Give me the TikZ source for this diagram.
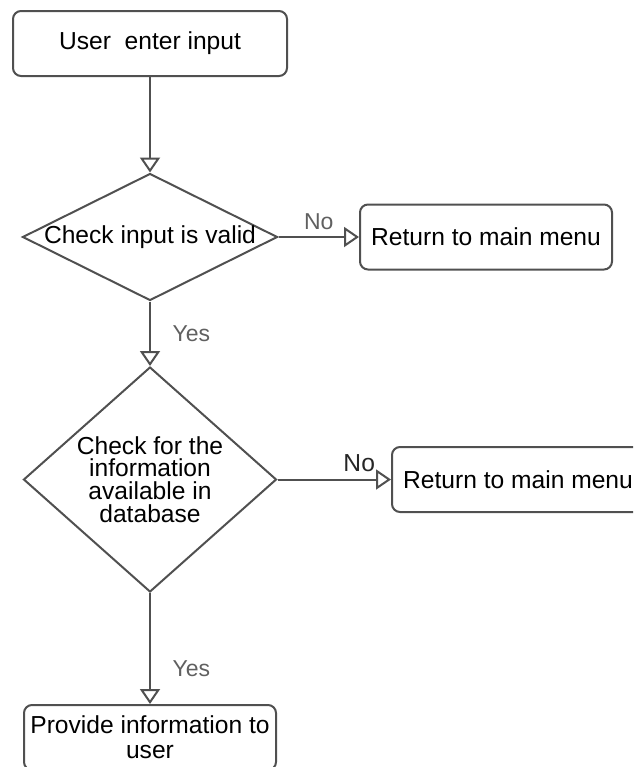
\documentclass[tikz,border=0pt]{standalone}
\usepackage{fontspec}
\setmainfont{Liberation Sans}
\usetikzlibrary{positioning}
\usetikzlibrary{shapes.geometric}
\usetikzlibrary{arrows.meta}
\definecolor{linegray}{HTML}{505050}
\definecolor{labelgray}{HTML}{606060}

\begin{document}
\begin{tikzpicture}[x=0.5pt, y=-0.5pt,
  process/.style={draw=linegray, line width=1pt, rounded corners=4pt, minimum width=126pt, minimum height=32.5pt, inner sep=0pt, align=center, font=\fontsize{12.3pt}{12.5pt}\selectfont},
  decision/.style={diamond, draw=linegray, line width=1pt, align=center, font=\fontsize{12.3pt}{11.4pt}\selectfont},
  flowline/.style={draw=linegray, line width=1pt, -{Triangle[open, length=7.5pt, width=10pt]}},
  flowlabel/.style={text=labelgray, font=\fontsize{11.5pt}{12pt}\selectfont}]

\useasboundingbox (0,0) rectangle (633,767);
\clip (0,0) rectangle (633,767);

\node[process, minimum width=137pt] (input) at (150,43.5) {User\ \ enter input};

\node[decision, inner xsep=-40pt, inner ysep=0pt, minimum width=127.5pt, minimum height=63.5pt] (valid) at (150,237) {Check input is valid};
\node[process] (menuA) at (486,237) {Return to main menu};

\node[decision, inner xsep=-30pt, inner ysep=-20pt, minimum width=126.5pt, minimum height=112.5pt] (avail) at (150,479.5) {Check for the\\information\\available in\\database};
\node[process] (menuB) at (518,479.5) {Return to main menu};

\node[process] (provide) at (150,737.5) {Provide information to\\user};

\draw[flowline] (input.south) -- (valid.north);
\draw[flowline] (valid.east) -- node[flowlabel, above] {No} (menuA.west);
\draw[flowline] (valid.south) -- node[flowlabel, right=7.5pt] {Yes} (avail.north);
\draw[flowline] (avail.east) -- node[flowlabel, text=black!85, font=\fontsize{12.3pt}{12pt}\selectfont, above, pos=0.72] {No} (menuB.west);
\draw[flowline] (avail.south) -- node[flowlabel, right=7.5pt, pos=0.68] {Yes} (provide.north);

\end{tikzpicture}
\end{document}
